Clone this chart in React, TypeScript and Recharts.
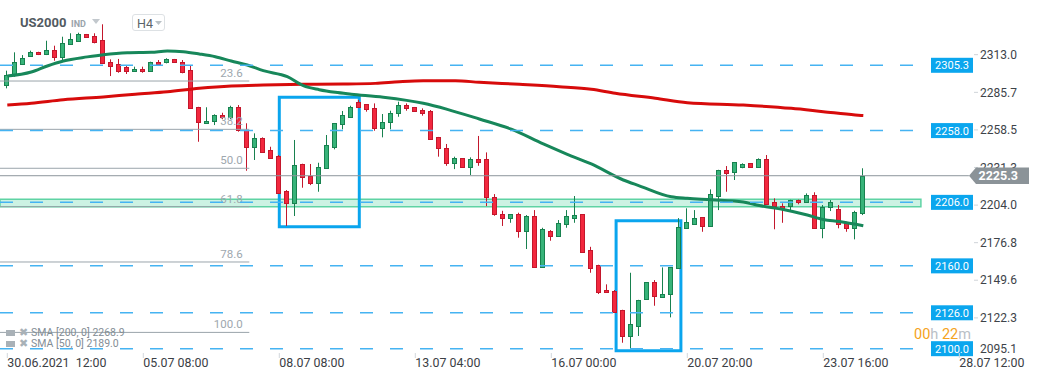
import React from "react";
import { Bar, ComposedChart, Line, ReferenceArea, ReferenceLine, XAxis, YAxis } from "recharts";

// H4 candles
const open = [
  2291.0, 2298.3, 2306.2, 2312.0, 2314.7, 2313.3, 2316.4, 2311.1, 2320.5, 2323.1,
  2327.7, 2326.5, 2323.6, 2307.5, 2306.2, 2303.8, 2301.2, 2302.6, 2301.4, 2307.7,
  2307.5, 2309.6, 2307.9, 2301.9, 2274.9, 2263.3, 2265.1, 2269.3, 2267.6, 2274.9,
  2258.4, 2246.3, 2252.4, 2243.9, 2239.6, 2214.2, 2205.7, 2233.8, 2225.3, 2219.8,
  2230.7, 2246.3, 2262.5, 2268.0, 2278.9, 2277.0, 2274.1, 2259.6, 2264.0, 2270.5,
  2276.5, 2274.9, 2272.9, 2272.2, 2253.1, 2245.1, 2234.3, 2237.9, 2231.4, 2237.2,
  2237.2, 2210.1, 2197.3, 2194.9, 2197.3, 2185.4, 2196.1, 2159.4, 2185.2, 2181.8,
  2190.1, 2194.9, 2197.3, 2171.4, 2160.6, 2142.5, 2141.7, 2128.0, 2109.4, 2116.6,
  2135.7, 2148.0, 2137.6, 2139.3, 2158.2, 2187.2, 2190.1, 2195.1, 2189.1, 2210.8,
  2229.4, 2228.2, 2231.8, 2234.3, 2231.8, 2237.2, 2206.0, 2203.3, 2203.6, 2207.7,
  2206.0, 2211.3, 2187.6, 2202.4, 2201.2, 2190.8, 2187.2, 2198.1,
];
const high = [
  2301.4, 2314.7, 2312.7, 2315.9, 2315.1, 2323.1, 2319.5, 2326.0, 2328.5, 2328.9,
  2328.0, 2328.5, 2335.0, 2309.6, 2309.9, 2305.5, 2304.3, 2304.3, 2307.9, 2309.1,
  2310.4, 2309.9, 2309.1, 2305.5, 2275.2, 2274.9, 2269.8, 2270.9, 2276.0, 2276.5,
  2263.3, 2256.0, 2253.1, 2246.3, 2240.3, 2214.9, 2251.2, 2234.0, 2233.8, 2234.7,
  2254.8, 2263.5, 2272.2, 2276.0, 2280.1, 2277.2, 2277.7, 2270.0, 2272.4, 2278.9,
  2277.7, 2275.1, 2274.1, 2272.9, 2253.4, 2248.3, 2239.1, 2238.1, 2238.6, 2254.1,
  2242.2, 2212.0, 2199.9, 2197.5, 2198.5, 2196.8, 2200.4, 2187.6, 2185.9, 2193.2,
  2200.4, 2210.6, 2197.5, 2173.8, 2160.8, 2146.6, 2142.5, 2128.2, 2155.0, 2135.4,
  2148.2, 2149.7, 2158.9, 2159.1, 2194.6, 2201.7, 2200.4, 2195.4, 2215.4, 2229.6,
  2232.3, 2235.2, 2234.3, 2234.5, 2237.9, 2240.3, 2208.9, 2205.3, 2207.9, 2208.0,
  2212.5, 2213.3, 2204.1, 2207.7, 2204.1, 2192.0, 2199.9, 2230.7,
];
const low = [
  2288.6, 2297.0, 2305.5, 2311.5, 2312.7, 2312.7, 2308.6, 2308.6, 2320.0, 2322.9,
  2325.3, 2321.2, 2306.5, 2297.5, 2299.9, 2299.0, 2300.6, 2299.9, 2301.2, 2305.5,
  2306.7, 2307.2, 2299.5, 2273.8, 2249.9, 2262.8, 2262.0, 2266.2, 2266.2, 2257.2,
  2228.9, 2236.7, 2242.5, 2238.1, 2212.8, 2188.9, 2196.1, 2216.6, 2218.5, 2213.7,
  2230.5, 2244.4, 2258.9, 2267.8, 2275.1, 2271.7, 2257.9, 2253.1, 2258.9, 2268.0,
  2272.4, 2271.8, 2268.8, 2251.5, 2239.1, 2232.5, 2230.1, 2231.2, 2225.8, 2232.5,
  2203.3, 2196.3, 2188.9, 2191.2, 2180.4, 2172.2, 2159.2, 2159.1, 2178.2, 2181.6,
  2187.6, 2191.2, 2169.5, 2155.0, 2139.6, 2140.6, 2126.5, 2104.3, 2099.7, 2109.2,
  2135.6, 2131.1, 2137.4, 2122.7, 2158.0, 2187.0, 2189.9, 2184.7, 2188.8, 2200.4,
  2213.7, 2222.2, 2230.7, 2231.6, 2231.1, 2204.1, 2186.5, 2191.2, 2199.9, 2204.6,
  2205.9, 2186.7, 2180.0, 2199.7, 2187.2, 2184.7, 2179.2, 2196.8,
];
const close = [
  2298.3, 2307.7, 2310.4, 2315.1, 2313.3, 2316.4, 2311.1, 2321.2, 2324.1, 2327.7,
  2325.6, 2322.4, 2306.7, 2305.0, 2301.4, 2301.4, 2302.6, 2301.2, 2307.5, 2306.2,
  2309.6, 2307.5, 2300.6, 2274.1, 2264.0, 2264.9, 2269.3, 2267.6, 2274.9, 2258.4,
  2246.3, 2252.4, 2242.7, 2238.3, 2213.0, 2205.7, 2233.0, 2224.1, 2219.8, 2231.4,
  2247.5, 2263.3, 2269.3, 2274.9, 2275.3, 2273.4, 2259.6, 2264.4, 2270.9, 2276.5,
  2274.1, 2272.0, 2270.9, 2251.7, 2245.1, 2234.3, 2237.9, 2231.4, 2237.2, 2235.4,
  2209.6, 2197.3, 2194.9, 2197.3, 2185.4, 2196.3, 2159.4, 2186.7, 2181.8, 2190.8,
  2196.3, 2196.6, 2170.2, 2158.6, 2141.2, 2140.8, 2126.7, 2109.4, 2117.6, 2135.2,
  2148.0, 2138.3, 2139.3, 2158.9, 2187.9, 2191.5, 2194.4, 2189.1, 2212.0, 2229.4,
  2227.5, 2235.0, 2233.8, 2231.8, 2237.2, 2204.6, 2203.6, 2201.7, 2207.7, 2206.0,
  2211.3, 2187.6, 2202.8, 2206.0, 2190.1, 2187.2, 2198.8, 2225.3,
];

// moving averages, points (candle index -> price)
const sma50Idx = [0, 3, 5, 7, 10, 12, 15, 18, 20, 22, 24, 26, 28, 30, 32, 35, 37, 39, 41, 43, 47, 52, 55, 59, 63, 67, 70, 73, 77, 79, 83, 85, 88, 92, 94, 97, 100, 102, 104, 107];
const sma50Val = [
  2297.5, 2300.4, 2304.8, 2308.4, 2311.4, 2313.0, 2314.4, 2314.7, 2315.6, 2315.1,
  2313.5, 2311.5, 2308.4, 2305.5, 2301.4, 2297.0, 2290.5, 2287.6, 2285.7, 2284.4,
  2282.2, 2277.8, 2273.4, 2266.4, 2259.0, 2248.3, 2240.8, 2233.8, 2222.2, 2218.0,
  2210.0, 2208.9, 2207.9, 2206.2, 2203.7, 2200.8, 2196.8, 2193.6, 2192.1, 2189.0,
];
const sma200Idx = [0, 3, 7, 12, 16, 20, 24, 28, 32, 37, 42, 46, 49, 52, 56, 59, 64, 69, 73, 76, 81, 85, 92, 98, 102, 106, 107];
const sma200Val = [
  2276.5, 2277.8, 2280.3, 2282.4, 2284.4, 2286.1, 2288.6, 2290.3, 2291.0, 2291.5,
  2291.7, 2292.2, 2293.4, 2294.1, 2294.1, 2293.0, 2291.5, 2289.8, 2287.9, 2285.0,
  2281.4, 2278.2, 2276.5, 2274.1, 2271.7, 2269.3, 2268.9,
];

const xTickIdx = [0, 17, 34, 51, 68, 85, 102, 119];
const xTickLabels = [
  "30.06.2021\u00a0 12:00", "05.07 08:00", "08.07 08:00", "13.07 04:00",
  "16.07 00:00", "20.07 20:00", "23.07 16:00", "28.07 12:00",
];
const yTicks = [2095.1, 2122.3, 2149.6, 2176.8, 2204.0, 2231.3, 2258.5, 2285.7, 2313.0];

const levels = [2305.3, 2258.0, 2206.0, 2160.0, 2126.0, 2100.0];
const fibNames = ["23.6", "38.2", "50.0", "61.8", "78.6", "100.0"];
const fibPrices = [2293.9, 2258.9, 2230.7, 2202.9, 2162.8, 2111.8];
const zone = [2202.8, 2208.2];
const boxes = [
  { x1: 34, x2: 44, y1: 2188.3, y2: 2282.1 },
  { x1: 76.1, x2: 84.2, y1: 2098.5, y2: 2192.7 },
];
const lastPrice = 2225.3;

const W = 1041;
const H = 380;
const X_DOMAIN: [number, number] = [-0.9125, 129.2125];
const Y_DOMAIN: [number, number] = [2094.7, 2352.6];
const LEVEL_END = 113.8;
const FIB_END = 30.25;
const LAST_END = 120.2;

const data = open.map((o, i) => ({
  i,
  o,
  h: high[i],
  l: low[i],
  c: close[i],
  range: [low[i], high[i]],
  sma50: null as number | null,
  sma200: null as number | null,
}));
sma50Idx.forEach((k, j) => (data[k].sma50 = sma50Val[j]));
sma200Idx.forEach((k, j) => (data[k].sma200 = sma200Val[j]));

function Candle(props: any) {
  const { x, y, width, height, payload } = props;
  if (x == null || !payload) return null;
  const { o, h, l, c } = payload;
  const up = c >= o;
  const top = Math.min(y, y + height);
  const span = Math.abs(height);
  const at = (v: number) => top + ((h - v) / (h - l || 1)) * span;
  const cx = Math.floor(x + width / 2) + 0.5;
  const b1 = Math.round(at(Math.max(o, c))) + 0.5;
  const b2 = Math.max(Math.round(at(Math.min(o, c))) + 0.5, b1 + 1);
  const edge = up ? "#18814f" : "#c3172c";
  return (
    <g>
      <line x1={cx} x2={cx} y1={at(h)} y2={at(l)} stroke={edge} strokeWidth={1} />
      <rect x={cx - 2} y={b1} width={4} height={b2 - b1} fill={up ? "#37b379" : "#f2283e"} stroke={edge} strokeWidth={1} />
    </g>
  );
}

function PriceTick(props: any) {
  const { y, payload } = props;
  const ty = Math.min(y, 349);
  return (
    <g>
      {y < 352 && <line x1={974} x2={978} y1={y} y2={y} stroke="#cfd4d8" />}
      <text x={1017} y={ty} dy={4.2} textAnchor="end" fontSize={12} fill="#3d4349">
        {payload.value.toFixed(1)}
      </text>
    </g>
  );
}

function TimeTick(props: any) {
  const { x, payload } = props;
  const k = xTickIdx.indexOf(payload.value);
  return (
    <g>
      <line x1={x} x2={x} y1={353} y2={358} stroke="#d3d8dc" />
      <text x={x} y={366.5} textAnchor="start" fontSize={12.4} fill="#3b4045">
        {xTickLabels[k]}
      </text>
    </g>
  );
}

function LevelTag(props: any) {
  const { viewBox, price } = props;
  if (!viewBox) return null;
  const y = viewBox.y;
  return (
    <g>
      <rect x={931} y={y - 7.5} width={42} height={15} fill="#0ba6ee" />
      <text x={952} y={y} dy={4} textAnchor="middle" fill="#ffffff" fontSize={11}>
        {price.toFixed(1)}
      </text>
    </g>
  );
}

function FibTag(props: any) {
  const { viewBox, txt } = props;
  if (!viewBox) return null;
  return (
    <text x={242.7} y={viewBox.y - 8} dy={4} textAnchor="end" fill="#9ea7ae" fontSize={11.5}>
      {txt}
    </text>
  );
}

function LastTag(props: any) {
  const { viewBox, price } = props;
  if (!viewBox) return null;
  const y = viewBox.y;
  return (
    <g>
      <polygon
        points={`969,${y} 976,${y - 8.3} 1029,${y - 8.3} 1029,${y + 8.3} 976,${y + 8.3}`}
        fill="#8b9398"
      />
      <text x={1018} y={y} dy={4.5} textAnchor="end" fill="#ffffff" fontSize={12.5} fontWeight={700}>
        {price.toFixed(1)}
      </text>
    </g>
  );
}

export default function App() {
  return (
    <div style={{ position: "relative", width: W, height: H, background: "#fff", fontFamily: "Roboto, sans-serif" }}>
      <style>{"body{margin:0}"}</style>
      <ComposedChart width={W} height={H} data={data} margin={{ top: 0, right: 0, bottom: 0, left: 0 }}>
        <XAxis
          dataKey="i"
          type="number"
          domain={X_DOMAIN}
          allowDataOverflow
          ticks={xTickIdx}
          interval={0}
          tick={<TimeTick />}
          axisLine={false}
          tickLine={false}
          height={24}
        />
        <YAxis
          type="number"
          orientation="right"
          mirror
          domain={Y_DOMAIN}
          allowDataOverflow
          ticks={yTicks}
          interval={0}
          tick={<PriceTick />}
          axisLine={false}
          tickLine={false}
        />
        <Bar dataKey="range" barSize={5} shape={<Candle />} isAnimationActive={false} />
        <Line dataKey="sma200" type="monotone" stroke="#d70b0b" strokeWidth={3} dot={false} activeDot={false} connectNulls isAnimationActive={false} />
        <Line dataKey="sma50" type="monotone" stroke="#17875a" strokeWidth={3} dot={false} activeDot={false} connectNulls isAnimationActive={false} />
        {fibPrices.map((p, k) => (
          <ReferenceLine
            key={"f" + k}
            segment={[{ x: X_DOMAIN[0], y: p }, { x: FIB_END, y: p }]}
            stroke="#9aa4ab"
            strokeWidth={1}
            label={<FibTag txt={fibNames[k]} />}
          />
        ))}
        <ReferenceArea
          x1={X_DOMAIN[0]}
          x2={114.2}
          y1={zone[0]}
          y2={zone[1]}
          fill="#8fe3c0"
          fillOpacity={0.45}
          stroke="#5fd3a4"
          strokeWidth={1.5}
        />
        {levels.map((p) => (
          <ReferenceLine
            key={"l" + p}
            segment={[{ x: X_DOMAIN[0], y: p }, { x: LEVEL_END, y: p }]}
            stroke="#45b3f2"
            strokeWidth={1.5}
            strokeDasharray="13 17"
            label={<LevelTag price={p} />}
          />
        ))}
        {boxes.map((b, k) => (
          <ReferenceArea
            key={"b" + k}
            x1={b.x1}
            x2={b.x2}
            y1={b.y1}
            y2={b.y2}
            fill="none"
            fillOpacity={0}
            stroke="#0aa5ee"
            strokeWidth={3}
          />
        ))}
        <ReferenceLine
          segment={[{ x: X_DOMAIN[0], y: lastPrice }, { x: LAST_END, y: lastPrice }]}
          stroke="#8c959b"
          strokeWidth={1}
          zIndex={2500}
          label={<LastTag price={lastPrice} />}
        />
      </ComposedChart>

      {/* header */}
      <div style={{ position: "absolute", left: 20, top: 15, fontSize: 13, fontWeight: 700, color: "#525a61" }}>US2000</div>
      <div style={{ position: "absolute", left: 71, top: 19, fontSize: 9, fontWeight: 700, color: "#9aa3aa" }}>IND</div>
      <svg style={{ position: "absolute", left: 90, top: 18 }} width={12} height={8}>
        <polygon points="2,1 10,1 6,6" fill="#c2c8cd" />
      </svg>
      <div
        style={{
          position: "absolute",
          left: 132,
          top: 14,
          width: 33,
          height: 17,
          border: "1px solid #dde1e4",
          borderRadius: 3,
          boxSizing: "border-box",
        }}
      >
        <span style={{ position: "absolute", left: 4, top: 1, fontSize: 12.5, color: "#5b6369" }}>H4</span>
        <svg style={{ position: "absolute", left: 21, top: 5 }} width={10} height={6}>
          <polygon points="1,1 8,1 4.5,5" fill="#b9c0c5" />
        </svg>
      </div>

      {/* indicator legend */}
      {["SMA [200, 0] 2268.9", "SMA [50, 0] 2189.0"].map((t, k) => (
        <div
          key={t}
          style={{ position: "absolute", left: 6, top: 327 + k * 11, fontSize: 10.5, color: "#838d95", whiteSpace: "nowrap", lineHeight: "12px" }}
        >
          <span style={{ display: "inline-block", width: 9, height: 6, background: "#a9b1b7", marginRight: 4 }} />
          <span style={{ color: "#a9b1b7", marginRight: 3 }}>✖</span>
          {t}
        </div>
      ))}

      {/* candle timer */}
      <div style={{ position: "absolute", left: 914, top: 326, fontSize: 14.5, whiteSpace: "nowrap" }}>
        <span style={{ color: "#f5a31c" }}>00</span>
        <span style={{ color: "#b9c0c6" }}>h </span>
        <span style={{ color: "#f5a31c" }}>22</span>
        <span style={{ color: "#b9c0c6" }}>m</span>
      </div>
    </div>
  );
}
